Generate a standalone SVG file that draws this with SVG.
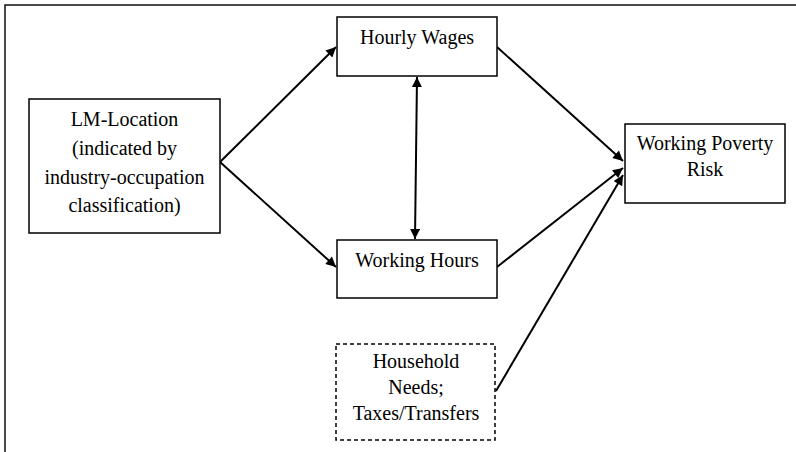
<svg xmlns="http://www.w3.org/2000/svg" width="796" height="452" viewBox="0 0 796 452">
<style>
.box{fill:#fff;stroke:#000;stroke-width:1.5}
.dash{fill:#fff;stroke:#000;stroke-width:1.5;stroke-dasharray:4,3}
.t{font-family:"Liberation Serif","Times New Roman",serif;font-size:20px;fill:#000;text-anchor:middle}
.c{stroke:#000;stroke-width:2;fill:none}
.frame{stroke:#111;stroke-width:1.5;fill:none}
</style>
<defs>
<marker id="ah" viewBox="0 0 10 10" refX="10" refY="5" markerWidth="13" markerHeight="10" markerUnits="userSpaceOnUse" orient="auto-start-reverse">
<path d="M0,0 L10,5 L0,10 z" fill="#000"/>
</marker>
</defs>
<path class="frame" d="M5,452 L5,5 L796,5"/>
<g id="connectors">
<line class="c" x1="220" y1="162" x2="336" y2="47" marker-end="url(#ah)"/>
<line class="c" x1="220" y1="162" x2="336" y2="267" marker-end="url(#ah)"/>
<line class="c" x1="417" y1="77" x2="415" y2="239" marker-start="url(#ah)" marker-end="url(#ah)"/>
<line class="c" x1="497" y1="47" x2="623" y2="161" marker-end="url(#ah)"/>
<line class="c" x1="497" y1="267" x2="623" y2="168" marker-end="url(#ah)"/>
<line class="c" x1="496" y1="391" x2="623" y2="175" marker-end="url(#ah)"/>
</g>
<g id="lm">
<rect class="box" x="29" y="99" width="191" height="134"/>
<text class="t" x="124.5" y="126">LM-Location</text>
<text class="t" x="124.5" y="155">(indicated by</text>
<text class="t" x="124.5" y="184">industry-occupation</text>
<text class="t" x="124.5" y="212">classification)</text>
</g>
<g id="wages">
<rect class="box" x="337" y="17" width="160" height="59"/>
<text class="t" x="417" y="44">Hourly Wages</text>
</g>
<g id="hours">
<rect class="box" x="337" y="240" width="160" height="58"/>
<text class="t" x="417" y="267">Working Hours</text>
</g>
<g id="poverty">
<rect class="box" x="625" y="124" width="160" height="79"/>
<text class="t" x="705" y="150">Working Poverty</text>
<text class="t" x="705" y="176">Risk</text>
</g>
<g id="household">
<rect class="dash" x="336" y="344" width="159" height="96"/>
<text class="t" x="416" y="368">Household</text>
<text class="t" x="416" y="394">Needs;</text>
<text class="t" x="416" y="420">Taxes/Transfers</text>
</g>
</svg>
